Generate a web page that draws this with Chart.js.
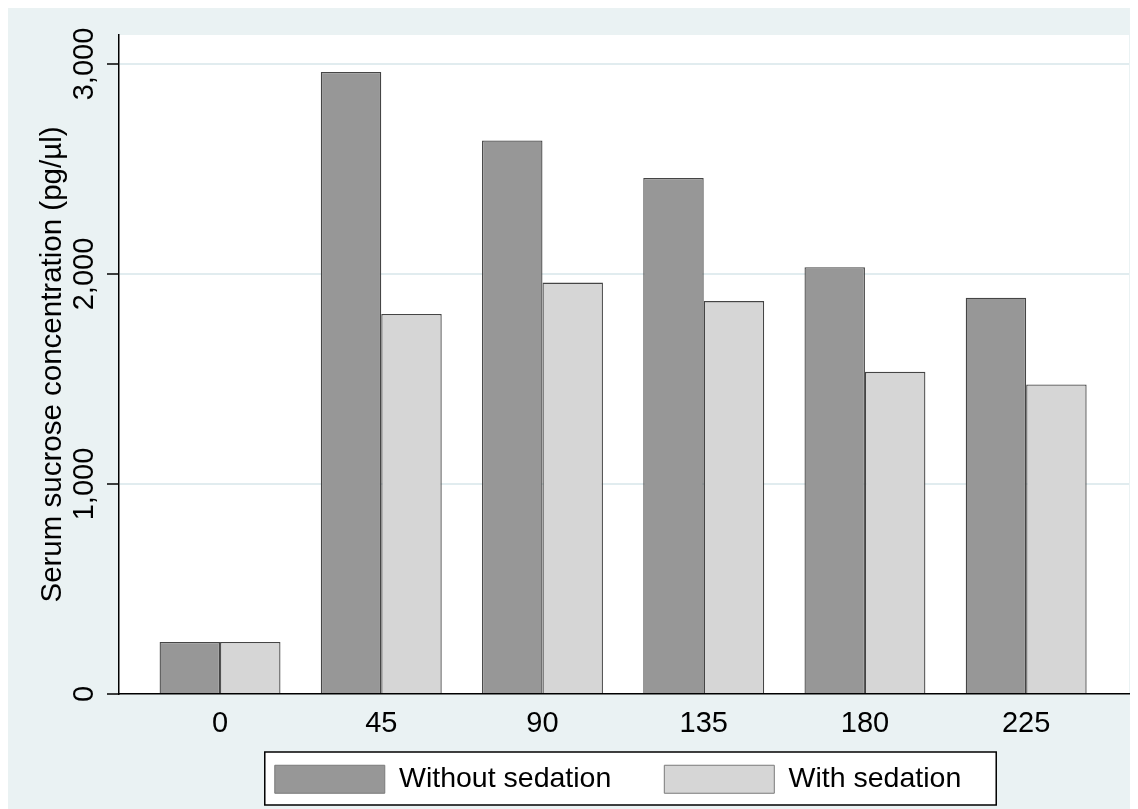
<!DOCTYPE html>
<html>
<head>
<meta charset="utf-8">
<script src="https://cdn.jsdelivr.net/npm/chart.js@4/dist/chart.umd.min.js"></script>
<style>
    body { margin: 8px; overflow: hidden; background: #fff; }
    #wrap { width: 1130px; height: 801px; position: relative; }
</style>
</head>
<body>
<div id="wrap"><canvas id="chart"></canvas></div>
<script>
const timePoints = [0, 45, 90, 135, 180, 225];
const withoutSedation = [248, 2962, 2636, 2457, 2032, 1887];
const withSedation = [248, 1810, 1959, 1871, 1534, 1474];
const yTicks = [0, 1000, 2000, 3000];
const seriesNames = ['Without sedation', 'With sedation'];

const BG = '#EAF2F3';
const LEG_PAD = 53;
Chart.defaults.font.family = '"Liberation Sans", Arial, sans-serif';
Chart.defaults.color = '#000';

// where the legend frame goes, from the legend's own layout
function legendFrame(chart) {
    const lg = chart.legend;
    if (!lg || !lg.lineWidths) return null;
    const lw = lg.lineWidths[0];
    const start = (lg.left + LEG_PAD + lg.right - lw) / 2;
    const end = start + lw - LEG_PAD;
    const top = lg.top + LEG_PAD;
    return { x0: start - 10, x1: end + 35, y0: top - 13, y1: top + 28 + 12 };
}

// Stata-like backdrop: tinted figure, white plot region, boxed legend
const backdrop = {
    id: 'backdrop',
    afterLayout(chart) {
        // pull the legend up under the tick labels (keep its bottom so nothing is clipped)
        chart.legend.top -= 32;
        chart.legend.left -= 12;
    },
    beforeDraw(chart) {
        const { ctx, chartArea: a, width, height } = chart;
        ctx.save();
        ctx.fillStyle = BG;
        ctx.fillRect(0, 0, width, height);
        ctx.fillStyle = '#fff';
        ctx.fillRect(a.left, a.top, a.right - a.left, a.bottom - a.top);
        const f = legendFrame(chart);
        if (f) ctx.fillRect(f.x0, f.y0, f.x1 - f.x0, f.y1 - f.y0);
        ctx.restore();
    },
    afterDraw(chart) {
        const f = legendFrame(chart);
        if (!f) return;
        const ctx = chart.ctx;
        ctx.save();
        ctx.strokeStyle = '#000';
        ctx.lineWidth = 1.5;
        ctx.strokeRect(f.x0, f.y0, f.x1 - f.x0, f.y1 - f.y0);
        ctx.restore();
    }
};

const makeSeries = (label, values, color) => ({
    label,
    data: timePoints.map((t, i) => ({ x: t, y: values[i] })),
    backgroundColor: color,
    borderColor: '#454545',
    borderWidth: 1.3,
    barPercentage: 1,
    categoryPercentage: 0.75
});

new Chart(document.getElementById('chart'), {
    type: 'bar',
    data: {
        datasets: [
            makeSeries(seriesNames[0], withoutSedation, '#979797'),
            makeSeries(seriesNames[1], withSedation, '#d6d6d6')
        ]
    },
    options: {
        responsive: true,
        maintainAspectRatio: false,
        animation: false,
        events: [],
        layout: { padding: { top: 27, right: 9, left: 0, bottom: 0 } },
        scales: {
            x: {
                type: 'linear',
                offset: false,
                min: -28.2,
                max: 253.7,
                grid: { display: false, drawTicks: false },
                border: { display: true, color: '#000', width: 1.5 },
                afterBuildTicks: s => { s.ticks = timePoints.map(v => ({ value: v })); },
                afterFit: s => { s.height = 50; },
                ticks: {
                    padding: 13,
                    font: { size: 29 },
                    color: '#000',
                    callback: v => String(v)
                }
            },
            y: {
                min: 0,
                max: 3138,
                afterBuildTicks: s => { s.ticks = yTicks.map(v => ({ value: v })); },
                afterFit: s => { s.width = 111; },
                grid: {
                    color: c => c.tick && c.tick.value === 0 ? 'rgba(0,0,0,0)' : '#E1ECEF',
                    lineWidth: 2,
                    tickColor: '#000',
                    tickLength: 12,
                    tickWidth: 1.5
                },
                border: { display: true, color: '#000', width: 1.5 },
                ticks: {
                    minRotation: 90,
                    maxRotation: 90,
                    crossAlign: 'center',
                    padding: -14,
                    font: { size: 29 },
                    color: '#000',
                    callback: v => v.toLocaleString('en-US')
                },
                title: {
                    display: true,
                    text: 'Serum sucrose concentration (pg/µl)',
                    font: { size: 29.5 },
                    color: '#000',
                    padding: { top: 27, bottom: 0 }
                }
            }
        },
        plugins: {
            tooltip: { enabled: false },
            legend: {
                position: 'bottom',
                fullSize: false,
                maxHeight: 65,
                labels: {
                    boxWidth: 110,
                    boxHeight: 28,
                    padding: LEG_PAD,
                    font: { size: 28.5 },
                    color: '#000',
                    generateLabels: chart => chart.data.datasets.map((ds, i) => ({
                        text: ds.label,
                        fillStyle: ds.backgroundColor,
                        strokeStyle: '#7a7a7a',
                        lineWidth: 1,
                        hidden: false,
                        datasetIndex: i,
                        fontColor: '#000'
                    }))
                }
            }
        }
    },
    plugins: [backdrop]
});
</script>
</body>
</html>
